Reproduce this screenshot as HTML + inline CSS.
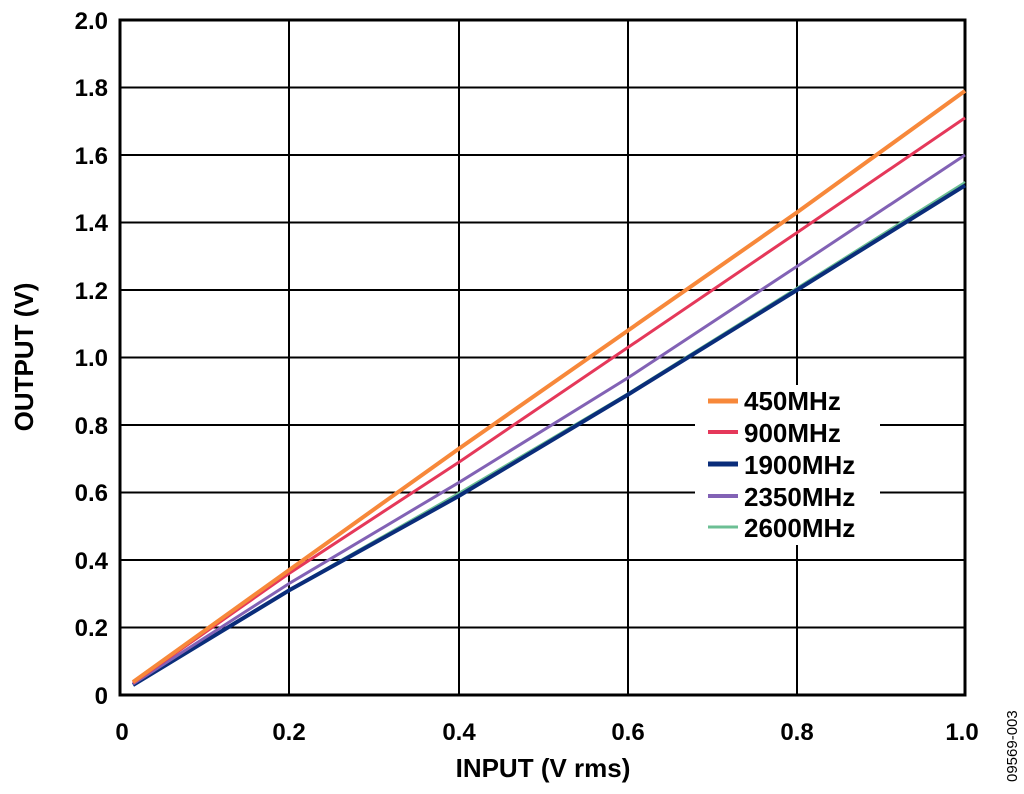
<!DOCTYPE html>
<html><head><style>body{margin:0;background:#fff}</style></head><body>
<svg width="1024" height="789" xmlns="http://www.w3.org/2000/svg" font-family="Liberation Sans, Arial, sans-serif" font-weight="bold">
<rect width="1024" height="789" fill="#fff"/>
<g stroke="#000" stroke-width="2">
<line x1="289" y1="20" x2="289" y2="695"/><line x1="459" y1="20" x2="459" y2="695"/>
<line x1="628" y1="20" x2="628" y2="695"/><line x1="797" y1="20" x2="797" y2="695"/>
<line x1="120" y1="87.5" x2="965" y2="87.5"/><line x1="120" y1="155" x2="965" y2="155"/>
<line x1="120" y1="222.5" x2="965" y2="222.5"/><line x1="120" y1="290" x2="965" y2="290"/>
<line x1="120" y1="357.5" x2="965" y2="357.5"/><line x1="120" y1="425" x2="965" y2="425"/>
<line x1="120" y1="492.5" x2="965" y2="492.5"/><line x1="120" y1="560" x2="965" y2="560"/>
<line x1="120" y1="627.5" x2="965" y2="627.5"/>
</g>
<rect x="695" y="385" width="185" height="160" fill="#fff"/>
<rect x="120" y="20" width="845" height="675" fill="none" stroke="#000" stroke-width="3"/>
<g fill="none" stroke-linejoin="round">
<polyline stroke="#6cbf94" stroke-width="2" points="133,684 289,589.6 459,492.8 628,393.2 797,287.7 965,182"/>
<polyline stroke="#0a2d7a" stroke-width="4" points="133,685 289,590.4 459,495.9 628,394.6 797,290 965,185.4"/>
<polyline stroke="#8262b5" stroke-width="3" points="133,684 289,583.6 459,482.4 628,377.8 797,266.4 965,155"/>
<polyline stroke="#e5385a" stroke-width="3" points="133,683 289,573.5 459,462.1 628,347.4 797,232.6 965,117.9"/>
<polyline stroke="#f7883a" stroke-width="4" points="133,682 289,570.1 459,448.6 628,330.5 797,212.4 965,90.9"/>
</g>
<g stroke-width="5">
<line x1="708" y1="401" x2="738" y2="401" stroke="#f7883a"/>
<line x1="708" y1="432" x2="738" y2="432" stroke="#e5385a" stroke-width="4"/>
<line x1="708" y1="464" x2="738" y2="464" stroke="#0a2d7a"/>
<line x1="708" y1="496" x2="738" y2="496" stroke="#8262b5" stroke-width="4"/>
<line x1="708" y1="527" x2="738" y2="527" stroke="#6cbf94" stroke-width="3"/>
</g>
<g font-size="26" fill="#000">
<text x="744" y="410">450MHz</text><text x="744" y="442">900MHz</text>
<text x="744" y="474">1900MHz</text><text x="744" y="506">2350MHz</text>
<text x="744" y="537">2600MHz</text>
</g>
<g font-size="24" text-anchor="end">
<text x="108" y="29">2.0</text><text x="108" y="96">1.8</text><text x="108" y="164">1.6</text>
<text x="108" y="231">1.4</text><text x="108" y="299">1.2</text><text x="108" y="366">1.0</text>
<text x="108" y="434">0.8</text><text x="108" y="501">0.6</text><text x="108" y="569">0.4</text>
<text x="108" y="636">0.2</text><text x="108" y="704">0</text>
</g>
<g font-size="24" text-anchor="middle">
<text x="122" y="740">0</text><text x="289" y="740">0.2</text><text x="459" y="740">0.4</text>
<text x="628" y="740">0.6</text><text x="797" y="740">0.8</text><text x="962" y="740">1.0</text>
<text x="543" y="777" font-size="26">INPUT (V rms)</text>
<text transform="translate(33,357) rotate(-90)" font-size="26">OUTPUT (V)</text>
</g>
<text transform="translate(1017,782) rotate(-90)" font-size="15" font-weight="normal">09569-003</text>
</svg>
</body></html>
